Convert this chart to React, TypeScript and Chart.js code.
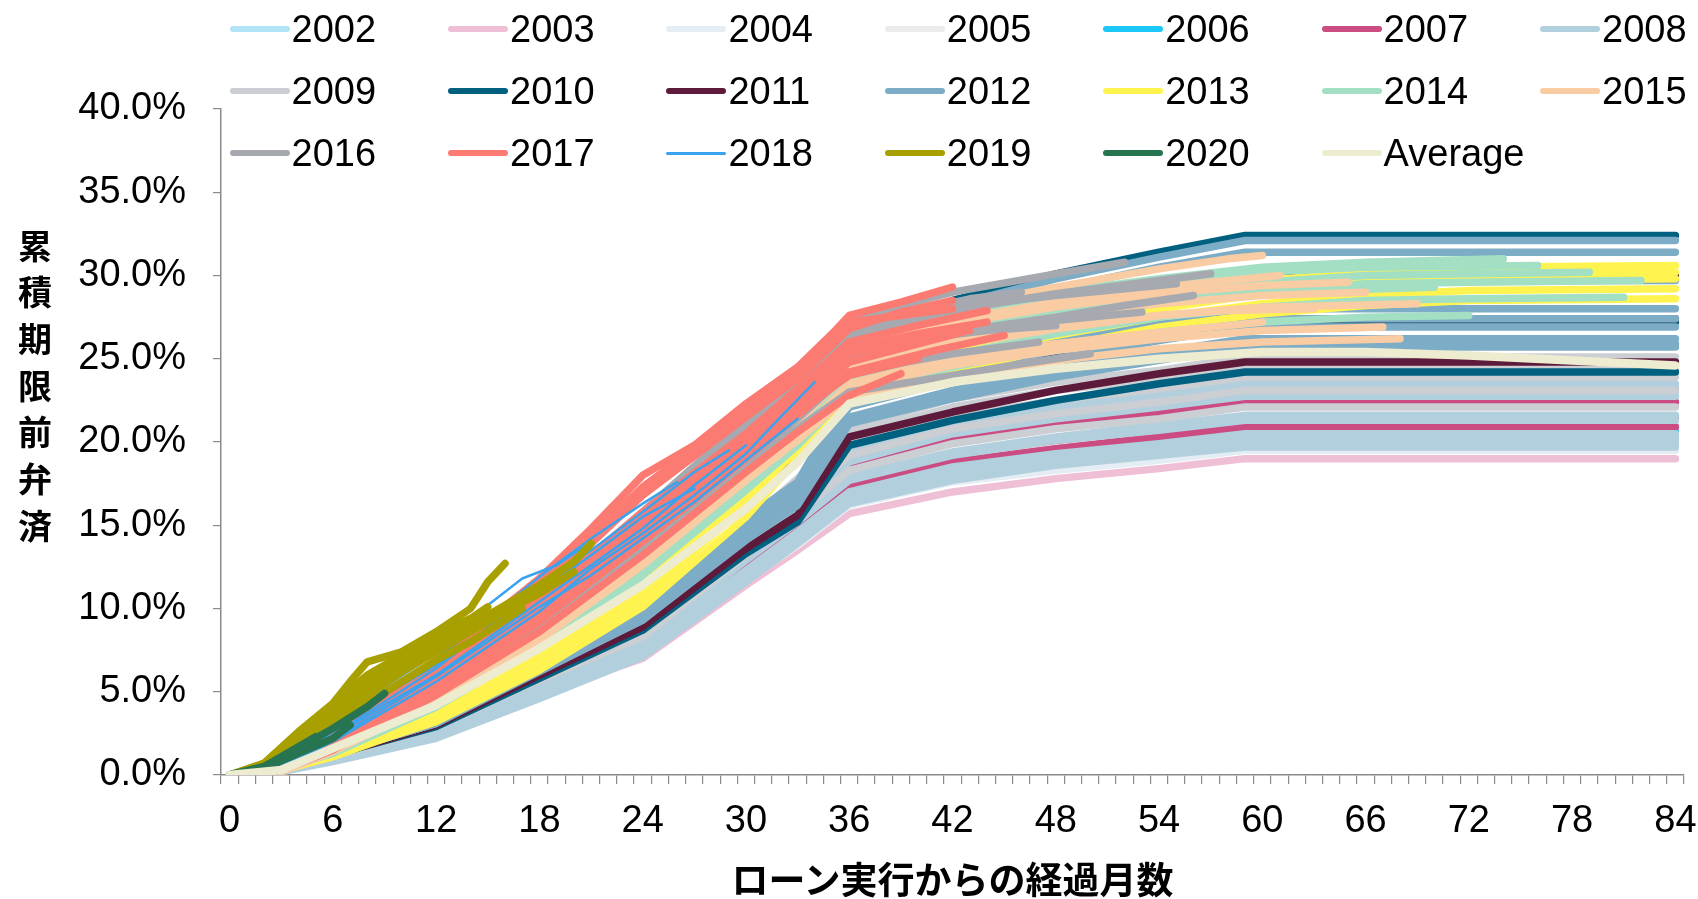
import React, { useEffect, useRef } from 'react';
import { Chart, registerables } from 'chart.js';
Chart.register(...registerables);

// category axis: months since loan execution
const MONTHS: number[] = Array.from({ length: 85 }, (_, i) => i);
const Y_TICK_STEP = 5;
const Y_MAX = 40;

// month grid shared by the older vintages (values in %)
const OLD_MONTHS = [0, 2, 6, 12, 18, 24, 30, 33, 36, 42, 48, 54, 59, 84];

const y2002 = [
  [0, 0, 1.2, 3.0, 6.0, 8.7, 13.8, 16.3, 19.1, 20.7, 21.6, 22.3, 23.0, 23.0],
  [0, 0, 1.0, 2.6, 5.3, 7.7, 12.2, 14.4, 16.8, 18.3, 19.1, 19.7, 20.3, 20.3],
];
const y2003 = [
  [0, 0, 0.9, 2.3, 4.9, 7.0, 11.4, 13.5, 15.7, 17.0, 17.8, 18.4, 19.0, 19.0],
  [0, 0, 1.0, 2.7, 5.3, 7.8, 12.3, 14.6, 17.0, 18.5, 19.3, 19.9, 20.5, 20.5],
];
const y2004 = [
  [0, 0, 1.0, 2.5, 5.1, 7.4, 11.7, 13.8, 16.2, 17.6, 18.3, 18.9, 19.5, 19.5],
  [0, 0, 1.1, 3.0, 5.9, 8.6, 13.6, 16.1, 18.8, 20.4, 21.3, 22.0, 22.7, 22.7],
];
const y2005 = [
  [0, 0, 1.0, 2.6, 5.2, 7.6, 11.9, 14.1, 16.5, 17.9, 18.7, 19.3, 19.9, 19.9],
  [0, 0, 1.1, 2.7, 5.5, 8.0, 12.7, 15.0, 17.5, 19.0, 19.8, 20.5, 21.1, 21.1],
];
const y2006 = [
  [0, 0, 1.2, 3.1, 6.1, 8.9, 13.9, 16.5, 19.3, 20.9, 21.8, 22.5, 23.2, 23.2],
  [0, 0, 1.0, 2.7, 5.4, 7.9, 12.4, 14.7, 17.2, 18.6, 19.4, 20.0, 20.6, 20.6],
];
const y2007 = [
  [0, 0, 1.0, 2.7, 5.4, 7.9, 12.5, 14.8, 17.3, 18.8, 19.6, 20.3, 20.9, 20.9],
  [0, 0, 1.1, 2.9, 5.8, 8.5, 13.4, 15.9, 18.6, 20.2, 21.1, 21.7, 22.4, 22.4],
  [0, 0, 1.1, 2.8, 5.5, 8.1, 12.9, 15.2, 17.8, 19.3, 20.1, 20.8, 21.4, 21.4],
];
const y2008 = [
  [0, 0, 1.0, 2.6, 5.2, 7.6, 11.9, 14.1, 16.5, 17.9, 18.7, 19.3, 20.0, 20.0],
  [0, 0, 1.0, 2.7, 5.3, 7.8, 12.3, 14.6, 17.0, 18.5, 19.3, 19.9, 20.5, 20.5],
  [0, 0, 1.1, 2.8, 5.6, 8.2, 13.0, 15.3, 17.9, 19.4, 20.3, 21.0, 21.6, 21.6],
  [0, 0, 1.1, 3.0, 5.9, 8.6, 13.6, 16.1, 18.8, 20.5, 21.4, 22.1, 22.75, 22.75],
  [0, 0, 1.2, 3.1, 6.1, 8.9, 14.1, 16.7, 19.5, 21.2, 22.1, 22.8, 23.5, 23.5],
  [0, 0, 0.9, 2.4, 5.0, 7.5, 12.0, 14.3, 16.7, 18.1, 19.0, 19.6, 20.2, 20.2],
  [0, 0, 1.0, 2.7, 5.5, 8.1, 12.9, 15.2, 17.7, 19.2, 20.1, 20.7, 21.3, 21.3],
  [0, 0, 1.2, 3.0, 6.0, 8.8, 14.0, 16.5, 19.3, 21.0, 21.9, 22.6, 23.3, 23.3],
  [0, 0, 0.8, 2.2, 4.6, 7.1, 11.6, 13.9, 16.3, 17.7, 18.6, 19.2, 19.7, 19.7],
];
const y2009 = [
  [0, 0, 1.1, 2.9, 5.7, 8.3, 13.2, 15.7, 18.3, 19.9, 20.8, 21.4, 22.1, 22.1],
  [0, 0, 1.2, 3.0, 6.0, 8.8, 13.9, 16.4, 19.2, 20.8, 21.7, 22.4, 23.1, 23.1],
  [0, 0, 1.2, 3.1, 6.2, 9.1, 14.3, 16.9, 19.8, 21.5, 22.5, 23.2, 23.9, 23.9],
  [0, 0, 1.3, 3.3, 6.5, 9.5, 15.1, 17.8, 20.8, 22.6, 23.6, 24.3, 25.1, 25.1],
  [0, 0, 1.3, 3.2, 6.4, 9.3, 14.7, 17.4, 20.4, 22.1, 23.1, 23.8, 24.5, 24.5],
];
const y2010 = [
  [0, 0, 1.2, 2.9, 5.8, 8.7, 13.3, 15.2, 19.8, 21.3, 22.5, 23.5, 24.2, 24.2],
  [0, 0, 1.4, 3.3, 6.5, 9.8, 15.0, 17.1, 22.3, 24.0, 25.3, 26.4, 27.2, 27.2],
  [0, 0, 1.6, 3.9, 7.8, 11.7, 17.8, 20.4, 26.6, 28.5, 30.1, 31.4, 32.4, 32.4],
];
const y2011 = [
  [0, 0, 1.2, 3.0, 6.0, 8.9, 13.6, 15.6, 20.3, 21.8, 23.1, 24.1, 24.8, 24.8],
  [0, 0, 1.4, 3.3, 6.6, 9.9, 15.1, 17.3, 22.5, 24.1, 25.5, 26.6, 27.4, 27.4],
  [0, 0, 1.5, 3.6, 7.2, 10.8, 16.5, 18.9, 24.6, 26.4, 27.9, 29.1, 30.0, 30.0],
];
const y2012 = [
  [0, 0, 1.3, 3.1, 6.2, 9.3, 14.1, 16.2, 21.1, 22.6, 23.9, 24.9, 25.7, 25.7],
  [0, 0, 1.3, 3.1, 6.3, 9.4, 14.4, 16.5, 21.5, 23.1, 24.4, 25.4, 26.2, 26.2],
  [0, 0, 1.3, 3.2, 6.5, 9.7, 14.8, 16.9, 22.1, 23.7, 25.0, 26.1, 26.9, 26.9],
  [0, 0, 1.4, 3.4, 6.7, 10.1, 15.4, 17.6, 23.0, 24.6, 26.0, 27.2, 28.0, 28.0],
  [0, 0, 1.6, 3.8, 7.5, 11.3, 17.3, 19.8, 25.7, 27.6, 29.2, 30.5, 31.4, 31.4],
  [0, 0, 1.6, 3.9, 7.7, 11.5, 17.6, 20.2, 26.3, 28.2, 29.8, 31.1, 32.1, 32.1],
  [0, 0, 1.4, 3.3, 6.6, 9.9, 15.1, 17.3, 22.6, 24.2, 25.5, 26.6, 27.4, 27.4],
  [0, 0, 1.3, 3.1, 6.3, 9.3, 14.2, 16.3, 21.3, 22.9, 24.1, 25.1, 25.9, 25.9],
  [0, 0, 1.5, 3.6, 7.1, 10.7, 16.4, 18.8, 24.3, 26.1, 27.6, 28.8, 29.7, 29.7],
];

// newer vintages: [month, %] pairs
const y2013 = [
  [[0, 0], [2, 0], [6, 1.3], [12, 3.4], [18, 6.8], [24, 10.6], [30, 16.2], [33, 19.8], [36, 24.4], [42, 26.3], [48, 27.8], [54, 28.9], [60, 29.7], [66, 30.2], [72, 30.5], [84, 30.6]],
  [[0, 0], [2, 0], [6, 1.1], [9, 2.2], [12, 3.2], [18, 6.3], [24, 10.1], [30, 15.5], [33, 19.0], [36, 23.3], [42, 25.4], [48, 26.9], [54, 28.0], [60, 28.9], [66, 29.4], [72, 29.7], [84, 29.8]],
  [[0, 0], [2, 0], [6, 1.2], [12, 3.5], [18, 7.0], [24, 11.0], [30, 16.4], [33, 19.6], [36, 23.0], [42, 25.0], [48, 26.4], [54, 27.5], [60, 28.3], [66, 28.8], [72, 29.1], [84, 29.2]],
  [[0, 0], [2, 0], [6, 1.2], [12, 3.6], [18, 7.2], [24, 11.4], [30, 16.8], [33, 19.5], [36, 22.3], [42, 24.2], [48, 25.7], [54, 26.9], [60, 27.7], [66, 28.2], [72, 28.5], [84, 28.6]],
  [[0, 0], [2, 0], [6, 1.2], [12, 3.4], [18, 6.9], [24, 10.9], [30, 16.5], [33, 19.9], [36, 23.8], [42, 25.8], [48, 27.3], [54, 28.4], [60, 29.3], [66, 29.8], [72, 30.1], [84, 30.2]],
];
const y2014 = [
  [[0, 0], [2, 0.1], [6, 1.6], [12, 4.9], [18, 9.1], [24, 14.2], [30, 20.5], [33, 23.5], [36, 26.8], [42, 28.0], [48, 29.0], [54, 29.8], [60, 30.5], [66, 30.8], [74, 31.0]],
  [[0, 0], [2, 0.1], [6, 1.4], [12, 4.4], [18, 8.3], [24, 12.9], [30, 18.3], [33, 21.2], [36, 24.6], [42, 26.5], [48, 27.9], [54, 28.9], [60, 29.6], [66, 30.0], [72, 30.1], [79, 30.2]],
  [[0, 0], [2, 0.1], [6, 1.4], [12, 4.3], [18, 8.1], [24, 12.6], [30, 17.9], [33, 20.8], [36, 24.2], [42, 26.0], [48, 27.4], [54, 28.4], [60, 29.1], [66, 29.5], [72, 29.6], [82, 29.7]],
  [[0, 0], [2, 0.1], [6, 1.3], [12, 4.2], [18, 7.9], [24, 12.3], [30, 17.5], [33, 20.3], [36, 23.6], [42, 25.2], [48, 26.5], [54, 27.5], [60, 28.1], [66, 28.5], [72, 28.6], [81, 28.7]],
  [[0, 0], [2, 0.1], [6, 1.3], [12, 4.1], [18, 7.7], [24, 12.0], [30, 17.1], [33, 19.8], [36, 23.0], [42, 24.5], [48, 25.7], [54, 26.6], [60, 27.2], [66, 27.5], [72, 27.6]],
  [[0, 0], [2, 0.1], [6, 1.5], [12, 4.7], [18, 8.8], [24, 13.7], [30, 19.6], [33, 22.6], [36, 26.0], [42, 27.5], [48, 28.7], [54, 29.6], [60, 30.2], [66, 30.5], [76, 30.6]],
  [[0, 0], [2, 0.1], [6, 1.4], [12, 4.5], [18, 8.5], [24, 13.2], [30, 18.8], [33, 21.7], [36, 25.0], [42, 26.8], [48, 27.9], [54, 28.6], [60, 29.0], [70, 29.3]],
];
const y2015 = [
  [[0, 0], [3, 0.3], [6, 1.7], [12, 5.0], [18, 9.0], [24, 13.9], [30, 19.2], [33, 21.9], [36, 25.0], [42, 26.5], [48, 27.5], [54, 28.3], [60, 28.8], [66, 29.0]],
  [[0, 0], [3, 0.3], [6, 1.6], [12, 4.8], [18, 8.7], [24, 13.5], [30, 18.7], [33, 21.2], [36, 24.2], [42, 25.8], [48, 26.8], [54, 27.6], [60, 28.1], [69, 28.3]],
  [[0, 0], [3, 0.2], [6, 1.5], [12, 4.6], [18, 8.4], [24, 13.0], [30, 18.2], [33, 20.6], [36, 23.2], [42, 24.6], [48, 25.5], [54, 26.2], [60, 26.7], [67, 26.9]],
  [[0, 0], [3, 0.2], [6, 1.4], [12, 4.4], [18, 8.1], [24, 12.6], [30, 17.7], [33, 20.1], [36, 22.8], [42, 24.0], [48, 24.9], [54, 25.6], [60, 26.0], [68, 26.2]],
  [[0, 0], [3, 0.4], [6, 1.9], [12, 5.5], [18, 9.7], [24, 14.9], [30, 20.3], [33, 23.2], [36, 26.5], [42, 28.1], [48, 29.3], [54, 30.4], [58, 31.0], [60, 31.2]],
  [[0, 0], [3, 0.3], [6, 1.8], [12, 5.3], [18, 9.4], [24, 14.4], [30, 19.8], [33, 22.6], [36, 25.8], [42, 27.3], [48, 28.4], [54, 29.3], [61, 30.0]],
  [[0, 0], [3, 0.3], [6, 1.6], [12, 4.9], [18, 8.9], [24, 13.7], [30, 19.0], [33, 21.6], [36, 24.6], [42, 26.0], [48, 27.0], [54, 27.6], [58, 27.9], [63, 28.0]],
  [[0, 0], [3, 0.3], [6, 1.8], [12, 5.2], [18, 9.3], [24, 14.3], [30, 19.7], [33, 22.4], [36, 25.6], [42, 27.1], [48, 28.1], [54, 28.9], [60, 29.4], [65, 29.6]],
  [[0, 0], [3, 0.2], [6, 1.5], [12, 4.5], [18, 8.3], [24, 12.9], [30, 18.0], [33, 20.4], [36, 23.5], [42, 25.0], [48, 25.9], [54, 26.6], [60, 27.2]],
];
const y2016 = [
  [[0, 0], [3, 0.4], [6, 1.9], [12, 5.6], [18, 9.8], [24, 14.8], [30, 20.2], [33, 23.0], [36, 26.2], [42, 27.9], [48, 28.9], [54, 29.7], [57, 30.1]],
  [[0, 0], [3, 0.3], [6, 1.7], [12, 5.2], [18, 9.3], [24, 14.2], [30, 19.6], [33, 22.3], [36, 25.2], [42, 26.6], [48, 27.5], [52, 28.2], [56, 28.8]],
  [[0, 0], [3, 0.4], [6, 2.0], [12, 5.9], [18, 10.3], [24, 15.4], [30, 20.8], [33, 23.6], [36, 26.8], [40, 27.9], [43, 28.6], [46, 29.0]],
  [[0, 0], [3, 0.3], [6, 1.5], [12, 4.9], [18, 8.8], [24, 13.5], [30, 18.6], [33, 20.8], [36, 23.0], [42, 24.0], [46, 24.7], [50, 25.3]],
  [[0, 0], [3, 0.5], [6, 2.1], [12, 6.1], [18, 10.6], [24, 15.8], [30, 21.3], [33, 24.3], [36, 27.4], [42, 29.0], [48, 30.1], [52, 30.8]],
  [[0, 0], [3, 0.3], [6, 1.8], [12, 5.4], [18, 9.6], [24, 14.5], [30, 19.9], [33, 22.6], [36, 25.6], [40, 26.2], [44, 26.7], [48, 27.0]],
  [[0, 0], [3, 0.4], [6, 1.9], [12, 5.7], [18, 10.0], [24, 15.1], [30, 20.5], [33, 23.3], [36, 26.5], [42, 28.1], [48, 28.8], [55, 29.5]],
  [[0, 0], [3, 0.3], [6, 1.7], [12, 5.3], [18, 9.4], [24, 14.3], [30, 19.7], [33, 22.4], [36, 25.4], [42, 26.6], [48, 27.3], [53, 27.8]],
  [[0, 0], [3, 0.3], [6, 1.6], [12, 5.0], [18, 9.0], [24, 13.8], [30, 18.9], [33, 21.4], [36, 24.2], [42, 25.3], [47, 26.0]],
];
const y2017 = [
  [[0, 0], [2, 0.3], [6, 2.5], [12, 6.8], [18, 11.8], [21, 14.8], [24, 18.0], [27, 19.8], [30, 22.3], [33, 24.5], [35, 26.5], [36, 27.6], [39, 28.4], [42, 29.3]],
  [[0, 0], [2, 0.2], [6, 2.2], [12, 6.3], [18, 11.0], [24, 16.8], [30, 21.5], [33, 23.8], [36, 26.8], [39, 27.8], [42, 28.5]],
  [[0, 0], [2, 0.2], [6, 2.1], [12, 6.0], [18, 10.5], [24, 15.8], [30, 20.5], [33, 23.2], [36, 26.0], [40, 27.0], [44, 27.9]],
  [[0, 0], [3, 0.4], [6, 1.8], [12, 5.6], [18, 9.8], [24, 14.6], [30, 19.6], [33, 22.0], [36, 24.8], [40, 25.9], [43, 26.7]],
  [[0, 0], [3, 0.3], [6, 1.6], [12, 5.2], [18, 9.2], [24, 14.0], [30, 19.0], [33, 21.6], [36, 24.2], [41, 25.5], [45, 26.4]],
  [[0, 0], [3, 0.3], [6, 1.5], [12, 4.8], [18, 8.6], [24, 13.2], [30, 18.2], [33, 20.6], [36, 22.8], [39, 24.1]],
  [[0, 0], [2, 0.2], [6, 2.0], [12, 5.8], [18, 10.2], [24, 15.4], [30, 20.2], [33, 22.8], [36, 25.6], [40, 26.5], [44, 27.2]],
  [[0, 0], [3, 0.3], [6, 1.7], [12, 5.4], [18, 9.5], [24, 14.3], [30, 19.3], [33, 21.8], [36, 24.0], [38, 24.5], [40, 25.0]],
  [[0, 0], [2, 0.3], [6, 2.3], [12, 6.5], [18, 11.4], [24, 17.3], [30, 21.9], [33, 24.2], [36, 27.2], [39, 27.6], [42, 28.0]],
  [[0, 0], [3, 0.4], [6, 1.9], [12, 5.7], [18, 10.0], [24, 15.1], [30, 20.0], [33, 22.5], [36, 25.3], [39, 26.0], [41, 26.4]],
];
const y2018 = [
  [[0, 0], [3, 1.0], [6, 3.2], [9, 5.3], [12, 7.3], [15, 10.2], [17, 11.8], [19, 12.6], [21, 14.0]],
  [[0, 0], [3, 0.7], [6, 2.6], [9, 4.8], [12, 6.6], [15, 8.6], [18, 11.0], [21, 13.2], [24, 15.5], [27, 17.2]],
  [[0, 0], [3, 0.6], [6, 2.3], [9, 4.2], [12, 6.0], [15, 8.2], [18, 10.4], [21, 12.6], [24, 14.8], [27, 17.4], [30, 19.8]],
  [[0, 0], [3, 0.5], [6, 2.0], [12, 5.6], [18, 9.8], [21, 12.4], [24, 14.5], [27, 16.8], [30, 19.3], [32, 21.5], [34, 23.6]],
  [[0, 0], [3, 0.6], [6, 2.4], [12, 6.4], [18, 11.3], [21, 13.5], [24, 15.8], [27, 18.2], [29, 19.5]],
  [[0, 0], [3, 0.8], [6, 2.9], [9, 5.0], [12, 7.0], [15, 9.4], [18, 11.9], [21, 14.2], [24, 16.3], [26, 17.6]],
  [[0, 0], [3, 0.5], [6, 2.1], [12, 5.9], [18, 10.1], [21, 12.0], [24, 14.2], [27, 16.4], [30, 18.9], [33, 21.4]],
];
const y2019 = [
  [[0, 0], [2, 0.7], [4, 2.6], [6, 4.3], [7, 5.6], [8, 6.8], [10, 7.4], [12, 8.6], [14, 10.0], [15, 11.6], [16, 12.7]],
  [[0, 0], [2, 0.6], [4, 2.0], [6, 3.6], [8, 5.2], [10, 6.8], [12, 7.9], [14, 9.0], [16, 10.2], [18, 11.4], [20, 12.8], [21, 13.9]],
  [[0, 0], [2, 0.5], [4, 1.8], [6, 3.3], [8, 4.8], [10, 6.2], [12, 7.4], [14, 8.6], [16, 9.8], [18, 10.9], [20, 12.2]],
  [[0, 0], [2, 0.6], [4, 2.2], [6, 3.8], [8, 5.6], [10, 7.0], [12, 8.2], [13, 8.9]],
  [[0, 0], [2, 0.4], [4, 1.5], [6, 2.9], [8, 4.3], [10, 5.6], [12, 6.9], [14, 8.0], [16, 9.3], [17, 10.0]],
  [[0, 0], [2, 0.5], [4, 2.4], [6, 4.1], [8, 5.9], [9, 6.5]],
  [[0, 0], [2, 0.6], [4, 2.3], [6, 4.0], [8, 5.4], [10, 6.6], [12, 7.7], [14, 8.8], [16, 10.0], [18, 11.2], [19, 11.8]],
  [[0, 0], [2, 0.5], [4, 2.0], [6, 3.5], [8, 5.0], [10, 6.4], [11, 7.0]],
  [[0, 0], [2, 0.7], [4, 2.5], [6, 4.2], [8, 6.0], [10, 7.2], [12, 8.4], [14, 9.4], [15, 10.1]],
];
const y2020 = [
  [[0, 0], [2, 0.5], [4, 1.6], [6, 2.8], [8, 4.1], [9, 4.9]],
  [[0, 0], [2, 0.4], [4, 1.3], [6, 2.2], [7, 3.0]],
  [[0, 0], [2, 0.5], [4, 1.7], [5, 2.3]],
];
const average = [
  [[0, 0], [3, 0.3], [6, 1.6], [12, 4.2], [18, 7.6], [24, 11.4], [30, 16.0], [33, 18.8], [36, 22.3], [42, 23.6], [48, 24.4], [54, 25.0], [60, 25.4], [66, 25.4], [72, 25.2], [78, 24.9], [84, 24.6]],
];

type Serie = { label: string; color: string; width: number; old?: number[][]; lines?: number[][][] };
const SERIES: Serie[] = [
  { label: '2002', color: '#b0e4f6', width: 7.5, old: y2002 },
  { label: '2003', color: '#eebfd5', width: 7.5, old: y2003 },
  { label: '2004', color: '#e3edf3', width: 7.5, old: y2004 },
  { label: '2005', color: '#ebebeb', width: 7.5, old: y2005 },
  { label: '2006', color: '#1cc7fa', width: 7.5, old: y2006 },
  { label: '2007', color: '#cb4b83', width: 7.5, old: y2007 },
  { label: '2008', color: '#b2cfdd', width: 7.5, old: y2008 },
  { label: '2009', color: '#cbced2', width: 7.5, old: y2009 },
  { label: '2010', color: '#00607f', width: 7.5, old: y2010 },
  { label: '2011', color: '#5e1a3a', width: 7.5, old: y2011 },
  { label: '2012', color: '#7dadc6', width: 7.5, old: y2012 },
  { label: '2013', color: '#fff44f', width: 7.5, lines: y2013 },
  { label: '2014', color: '#a2dfc3', width: 7.5, lines: y2014 },
  { label: '2015', color: '#f9cca4', width: 7.5, lines: y2015 },
  { label: '2016', color: '#a6aab0', width: 7.5, lines: y2016 },
  { label: '2017', color: '#fb7b73', width: 7.5, lines: y2017 },
  { label: '2018', color: '#3aa3f0', width: 2.5, lines: y2018 },
  { label: '2019', color: '#a8a000', width: 7.5, lines: y2019 },
  { label: '2020', color: '#277550', width: 7.5, lines: y2020 },
  { label: 'Average', color: '#eeecd0', width: 8.5, lines: average },
];

const Y_TITLE = ['累', '積', '期', '限', '前', '弁', '済'];
const X_TITLE = 'ローン実行からの経過月数';

const AXIS_GREY = '#8a8a8a';
const FONT = "'Liberation Sans', Arial, sans-serif";
const CJK = "'Noto Sans CJK JP', sans-serif";

export default function App() {
  const ref = useRef<HTMLCanvasElement>(null);

  useEffect(() => {
    const canvas = ref.current;
    if (!canvas) return;
    const datasets: any[] = [];
    let idx = 0;
    SERIES.forEach((s) => {
      const lines: { x: number; y: number }[][] = [];
      if (s.old) s.old.forEach((vals) => lines.push(OLD_MONTHS.map((m, i) => ({ x: m, y: vals[i] }))));
      if (s.lines) s.lines.forEach((ln) => lines.push(ln.map(([m, v]) => ({ x: m, y: v }))));
      lines.forEach((data) => {
        datasets.push({
          label: s.label,
          data,
          borderColor: s.color,
          backgroundColor: s.color,
          borderWidth: s.width,
          pointRadius: 0,
          fill: false,
          tension: 0,
          borderCapStyle: 'round',
          borderJoinStyle: 'round',
          order: -idx,
        });
        idx++;
      });
    });

    const chart = new Chart(canvas, {
      type: 'line',
      data: { labels: MONTHS, datasets },
      options: {
        responsive: false,
        animation: false,
        events: [],
        layout: { padding: { top: 109, right: 14, left: 0, bottom: 0 } },
        plugins: { legend: { display: false }, tooltip: { enabled: false }, title: { display: false } },
        scales: {
          x: {
            type: 'category',
            offset: true,
            grid: { offset: true, drawOnChartArea: false, drawTicks: true, tickLength: 9, color: AXIS_GREY, lineWidth: 1.2 },
            border: { display: true, color: AXIS_GREY, width: 1.5 },
            ticks: {
              autoSkip: false,
              maxRotation: 0,
              minRotation: 0,
              padding: 15,
              color: '#000',
              font: { family: FONT, size: 38 },
              callback: (_v: any, i: number) => (MONTHS[i] % 6 === 0 ? String(MONTHS[i]) : ''),
            },
            afterFit: (s: any) => {
              s.height = 124;
              s.paddingLeft = 0;
              s.paddingRight = 0;
            },
          },
          y: {
            type: 'linear',
            min: 0,
            max: Y_MAX,
            grid: { drawOnChartArea: false, drawTicks: true, tickLength: 8, color: AXIS_GREY, lineWidth: 1.2 },
            border: { display: true, color: AXIS_GREY, width: 1.5 },
            ticks: {
              stepSize: Y_TICK_STEP,
              padding: 27,
              color: '#000',
              font: { family: FONT, size: 38 },
              callback: (v: any) => Number(v).toFixed(1) + '%',
            },
            afterFit: (s: any) => {
              s.width = 221;
              s.paddingTop = 0;
              s.paddingBottom = 0;
            },
          },
        },
      } as any,
    });
    return () => chart.destroy();
  }, []);

  const legendX0 = 229.6;
  const legendDX = 218.4;
  const legendRows = [29, 91, 153];

  return (
    <div style={{ position: 'absolute', left: 0, top: 0, width: 1698, height: 899, overflow: 'hidden', background: '#fff' }}>
      <canvas ref={ref} width={1698} height={899} style={{ position: 'absolute', left: 0, top: 0, width: 1698, height: 899 }} />
      {SERIES.map((s, i) => {
        const col = i % 7;
        const row = Math.floor(i / 7);
        const left = legendX0 + col * legendDX;
        const cy = legendRows[row];
        return (
          <div
            key={s.label}
            style={{
              position: 'absolute',
              left,
              top: cy - 22,
              height: 44,
              display: 'flex',
              alignItems: 'center',
              whiteSpace: 'nowrap',
            }}
          >
            <div style={{ width: 60, height: s.width === 2.5 ? 3 : 6.5, borderRadius: 4, background: s.color }} />
            <span style={{ marginLeft: 2, fontFamily: FONT, fontSize: 38, lineHeight: '44px', color: '#000' }}>{s.label}</span>
          </div>
        );
      })}
      <div style={{ position: 'absolute', left: 15, top: 221.6, width: 40, textAlign: 'center', fontFamily: CJK, fontWeight: 700, fontSize: 34, color: '#000' }}>
        {Y_TITLE.map((c) => (
          <div key={c} style={{ height: 46.7, lineHeight: '46.7px' }}>{c}</div>
        ))}
      </div>
      <div style={{ position: 'absolute', left: 221, top: 856, width: 1463, height: 44, lineHeight: '44px', textAlign: 'center', fontFamily: CJK, fontWeight: 700, fontSize: 37, color: '#000', whiteSpace: 'nowrap' }}>
        {X_TITLE}
      </div>
    </div>
  );
}
